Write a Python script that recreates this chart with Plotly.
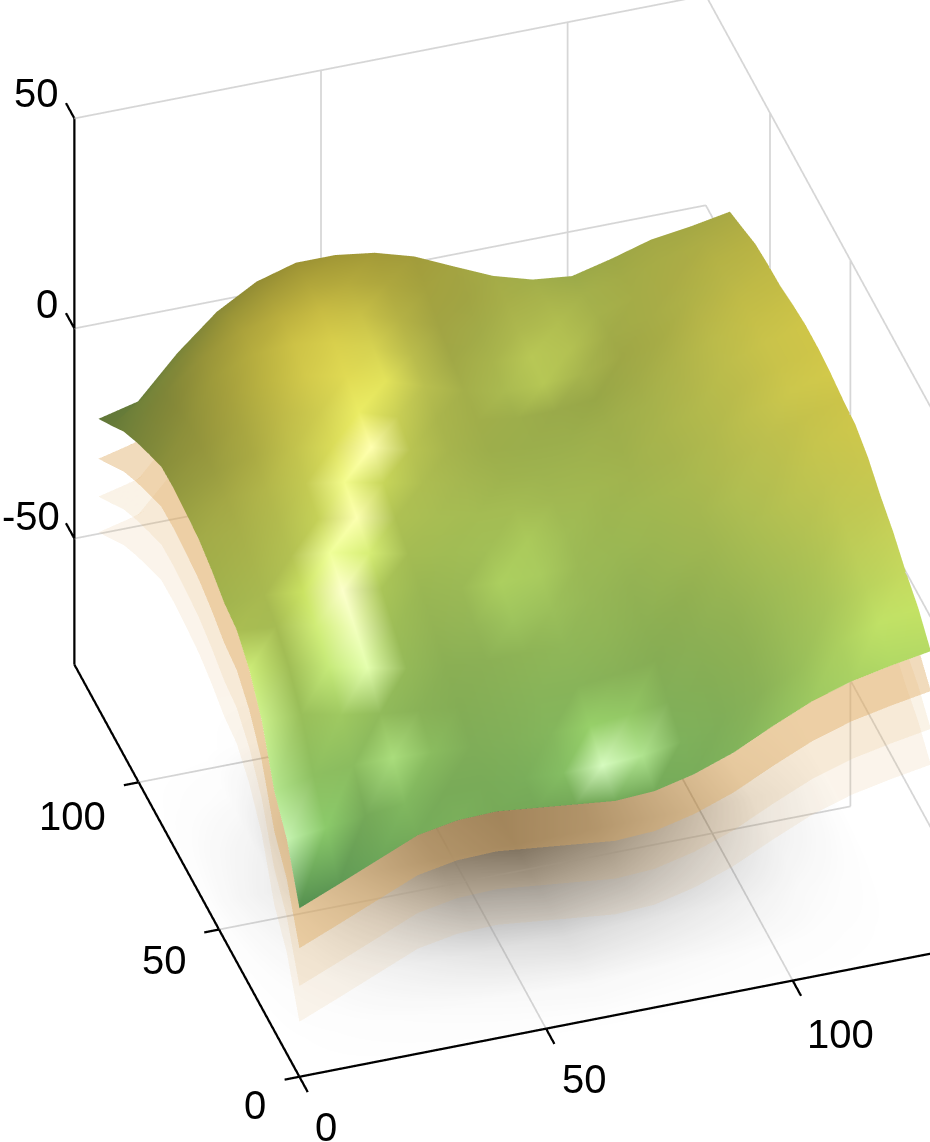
import plotly.graph_objects as go

x_nodes = [0, 8, 16, 24, 32, 40, 48, 56, 64, 72, 80, 88, 96, 104, 112, 120, 128]
y_nodes = [0, 7.8, 15.6, 23.4, 31.2, 39, 46.8, 54.6, 62.4, 70.2, 78, 85.8, 93.6, 101.4, 109.2, 117, 125]
z_top = [
    [-39.9, -36, -32, -28, -26.3, -26, -27, -28, -29, -28.5, -26.3, -23, -18.5, -14.4, -11.5, -9.6, -8],
    [-29, -28, -27, -26, -25, -25, -25.5, -26, -26, -25.5, -24, -21, -16, -12, -8, -5, -3.2],
    [-23, -21, -20.5, -20.5, -21, -21.5, -22, -22, -22, -21, -20, -17, -13, -9, -5, -2, 0],
    [-11.7, -12, -14, -15.5, -16.5, -17.5, -18, -18, -18, -17, -15.5, -13, -9.5, -6, -2, 1.5, 4],
    [-5, -6, -8, -10, -12, -13.5, -14, -14, -14, -13, -12, -9, -6, -2.5, 1, 4.5, 7],
    [-1, -2, -3.5, -6, -8, -10, -11, -11.5, -11, -10, -9, -6, -3, 0, 4, 7.5, 10.7],
    [0, 0, -1, -2.5, -4, -6, -7.5, -8, -8, -7.5, -6, -4, -1, 2, 6, 10, 13],
    [2.3, 2.5, 2, 1, -1, -3, -4.5, -5.5, -5.5, -5, -4, -2, 0.5, 4, 7.5, 11, 13.6],
    [4, 4.5, 4.5, 3.5, 2, 0, -1.5, -3, -3, -3, -2, -0.5, 2, 5, 8.5, 12, 14.5],
    [4.7, 6.5, 7, 6.5, 5, 3, 1, -0.5, -1.5, -2, -1.5, 0, 2.5, 5.5, 9, 12.5, 15],
    [5.2, 7.5, 9.5, 9.5, 8, 6, 3.5, 1.5, 0, -1, -1, 0.5, 3, 6, 9.5, 12.5, 15],
    [5, 8, 11, 12, 11, 9, 6, 3.5, 1.5, 0, 0, 1, 3.5, 6.5, 9.5, 12.5, 14.3],
    [2.6, 8, 12.5, 14.5, 14, 12, 9, 6, 3, 1, 1, 1.5, 4, 6.5, 9.5, 12, 13.3],
    [0, 6.5, 12, 15.5, 16, 14.5, 11.5, 8, 5, 2.5, 2, 2, 3.5, 6, 8.5, 11, 13],
    [-3, 4, 11, 15.5, 17, 16.5, 14, 11, 7.5, 4, 3, 2.5, 3, 5.5, 8, 10.5, 12.4],
    [-7, -1, 7, 13.5, 16, 17, 16, 14, 10.5, 7, 4.5, 3, 2.5, 4.5, 7, 9, 10.7],
    [-11, -8.7, 1, 9, 14.3, 17, 17, 15.7, 13, 8.8, 4.7, 2, 1, 3.3, 6, 7.3, 9],
]
tone = [
    [.9, .95, 1.0, 1.02, 1.03, 1.0, 1.0, 1.0, 1.02, 1.02, 1.02, 1.04, 1.08, 1.12, 1.15, 1.18, 1.18],
    [1.4, 1.2, 1.0, 1.08, 1.0, 1.0, 1.02, 1.12, 1.45, 1.3, 1.03, 1.0, 1.0, 1.05, 1.12, 1.2, 1.2],
    [1.3, 1.1, 1.08, 1.25, 1.08, 1.0, 1.02, 1.05, 1.2, 1.15, 1.0, .98, .98, 1.02, 1.05, 1.12, 1.15],
    [1.3, 1.05, 1.12, 1.05, 1.0, .98, 1.0, 1.02, 1.02, 1.0, .97, .97, .97, 1.0, 1.03, 1.08, 1.1],
    [1.25, 1.02, 1.25, 1.4, 1.02, .97, .98, 1.0, 1.02, 1.0, .97, .95, .97, 1.0, 1.02, 1.05, 1.05],
    [1.0, 1.0, 1.25, 1.45, 1.02, .98, 1.0, 1.08, 1.05, 1.0, .97, .97, .97, 1.0, 1.02, 1.03, 1.03],
    [.95, .98, 1.2, 1.5, 1.05, .98, 1.0, 1.12, 1.1, 1.0, .98, .97, .97, 1.0, 1.0, 1.02, 1.02],
    [.92, .95, 1.02, 1.35, 1.25, 1.0, 1.0, 1.02, 1.08, 1.0, .97, .97, .97, .98, 1.0, 1.0, 1.0],
    [.9, .92, .98, 1.1, 1.42, 1.02, 1.0, 1.0, 1.0, .98, .97, .95, .95, .97, 1.0, 1.02, 1.02],
    [.85, .88, .95, 1.05, 1.32, 1.12, 1.0, .97, .95, .95, .95, .93, .95, .97, .98, 1.0, 1.0],
    [.8, .82, .88, 1.0, 1.15, 1.42, 1.03, .95, .92, .92, .92, .92, .93, .95, .98, 1.0, 1.0],
    [.75, .78, .85, .95, 1.05, 1.22, 1.08, .95, .92, .92, .9, .88, .9, .93, .97, .98, .98],
    [.72, .75, .82, .92, 1.03, 1.12, 1.18, 1.0, .92, .98, 1.05, .95, .88, .9, .94, .96, .96],
    [.7, .72, .8, .88, .98, 1.05, 1.08, .98, .88, .95, 1.05, 1.02, .9, .9, .92, .94, .94],
    [.68, .7, .76, .82, .88, .95, .98, .92, .86, .9, .97, 1.0, .93, .9, .9, .92, .92],
    [.66, .7, .72, .76, .8, .84, .86, .85, .84, .86, .92, .95, .93, .9, .9, .9, .9],
    [.65, .68, .7, .72, .72, .74, .76, .78, .8, .85, .9, .92, .9, .88, .88, .88, .88],
]
shadow_x = [0, 16, 32, 48, 64, 80, 96, 112, 128]
shadow_y = [0, 15.6, 31.2, 46.8, 62.4, 78, 93.6, 109.2, 125]
shadow = [
    [0, 0, 0, 0, 0, 0, 0, 0, 0],
    [0, .01, .02, .03, .04, .03, .02, .01, 0],
    [0, .03, .08, .14, .18, .14, .09, .03, 0],
    [0, .06, .2, .38, .45, .38, .22, .07, 0],
    [0, .09, .35, .65, .8, .65, .38, .1, 0],
    [0, .06, .35, .7, .85, .7, .35, .06, 0],
    [0, .02, .15, .3, .4, .3, .15, .02, 0],
    [0, 0, .02, .05, .1, .05, .02, 0, 0],
    [0, 0, 0, 0, 0, 0, 0, 0, 0],
]
layer_offsets = [9.5, 18.5, 27]
layer_alpha = [0.42, 0.15, 0.12]
hue_z = [-40, -20, -5, 8, 18]
hue_rgb = [(95, 160, 90), (130, 175, 88), (160, 188, 85), (190, 192, 78), (215, 200, 70)]
x_ticks = [0, 50, 100]
y_ticks = [0, 50, 100]
z_ticks = [-50, 0, 50]
z_tick_text = ["-50", "0", "50"]
X_MAX, Y_MAX, Z_MIN, Z_MAX = 128, 140, -80, 50
PAD = 10
GRID = "rgb(214,214,214)"
SHADOW_Z = Z_MIN - 3


def shade(z, t):
    for i in range(len(hue_z) - 1):
        if z <= hue_z[i + 1] or i == len(hue_z) - 2:
            f = max(0, min(1, (z - hue_z[i]) / (hue_z[i + 1] - hue_z[i])))
            c = [hue_rgb[i][k] + f * (hue_rgb[i + 1][k] - hue_rgb[i][k]) for k in range(3)]
            break
    c = [min(255, v * t) for v in c]
    if t > 1.2:
        w = min(1, (t - 1.2) / 0.5)
        c = [v + w * (255 - v) for v in c]
    return "rgb(%d,%d,%d)" % tuple(int(v) for v in c)


nx, ny = len(x_nodes), len(y_nodes)
mx, my, mz, mc, mi, mj, mk = [], [], [], [], [], [], []
for r in range(ny):
    for c in range(nx):
        mx.append(x_nodes[c]); my.append(y_nodes[r]); mz.append(z_top[r][c])
        mc.append(shade(z_top[r][c], tone[r][c]))
for r in range(ny - 1):
    for c in range(nx - 1):
        a = r * nx + c
        mi += [a, a]; mj += [a + 1, a + nx + 1]; mk += [a + nx + 1, a + nx]

flat = dict(ambient=1, diffuse=0, specular=0, fresnel=0, roughness=1)
fig = go.Figure()
fig.add_surface(x=shadow_x, y=shadow_y, z=[[SHADOW_Z] * len(shadow_x) for _ in shadow_y], surfacecolor=shadow,
                colorscale=[[0, "rgb(255,255,255)"], [1, "rgb(50,50,50)"]], cmin=0, cmax=1,
                showscale=False, hoverinfo="skip", lighting=flat)


def lines(segs, color, width):
    xs, ys, zs = [], [], []
    for a, b in segs:
        xs += [a[0], b[0], None]; ys += [a[1], b[1], None]; zs += [a[2], b[2], None]
    fig.add_scatter3d(x=xs, y=ys, z=zs, mode="lines", line=dict(color=color, width=width),
                      showlegend=False, hoverinfo="skip")


def floor_gray(s):
    g = int(214 * (255 - 205 * s) / 255)
    return "rgb(%d,%d,%d)" % (g, g, g)


def nearest(seq, v):
    return min(range(len(seq)), key=lambda i: abs(seq[i] - v))


# Floor grid lines pick up the shadow under them, as they do in the reference.
for v in x_ticks[1:]:
    col = nearest(shadow_x, v)
    ys = shadow_y + [Y_MAX]
    vals = [row[col] for row in shadow] + [0]
    fig.add_scatter3d(x=[v] * len(ys), y=ys, z=[Z_MIN] * len(ys), mode="lines",
                      line=dict(color=[floor_gray(s) for s in vals], width=3.5),
                      showlegend=False, hoverinfo="skip")
for v in y_ticks[1:]:
    vals = shadow[nearest(shadow_y, v)]
    fig.add_scatter3d(x=shadow_x, y=[v] * len(shadow_x), z=[Z_MIN] * len(shadow_x), mode="lines",
                      line=dict(color=[floor_gray(s) for s in vals], width=3.5),
                      showlegend=False, hoverinfo="skip")

grid = []
for v in x_ticks[1:]:
    grid.append(((v, Y_MAX, Z_MIN), (v, Y_MAX, Z_MAX)))
for v in y_ticks[1:]:
    grid.append(((X_MAX, v, Z_MIN), (X_MAX, v, Z_MAX)))
for v in z_ticks:
    grid.append(((0, Y_MAX, v), (X_MAX, Y_MAX, v)))
    grid.append(((X_MAX, 0, v), (X_MAX, Y_MAX, v)))
lines(grid, GRID, 3.5)

frame = [((0, 0, Z_MIN), (X_MAX, 0, Z_MIN)), ((0, 0, Z_MIN), (0, Y_MAX, Z_MIN)), ((0, Y_MAX, Z_MIN), (0, Y_MAX, Z_MAX))]
frame += [((v, 0, Z_MIN), (v, -5.2, Z_MIN)) for v in x_ticks]
frame += [((0, v, Z_MIN), (-3, v, Z_MIN)) for v in y_ticks]
frame += [((0, Y_MAX, v), (0, Y_MAX + 5.2, v)) for v in z_ticks]
lines(frame, "black", 4.5)

for off, a in sorted(zip(layer_offsets, layer_alpha), reverse=True):
    fig.add_surface(x=x_nodes, y=y_nodes, z=[[v - off for v in row] for row in z_top],
                    colorscale=[[0, "rgb(222,170,95)"], [1, "rgb(222,170,95)"]], opacity=a,
                    showscale=False, hoverinfo="skip", lighting=flat)

fig.add_mesh3d(x=mx, y=my, z=mz, i=mi, j=mj, k=mk, vertexcolor=mc, lighting=flat, hoverinfo="skip")

label_font = dict(family="Liberation Sans", size=40, color="black")
notes = []
for v, s in zip(x_ticks, [(27, -50), (38, -50), (48, -53)]):
    notes.append(dict(x=v, y=0, z=Z_MIN, text=str(v), xshift=s[0], yshift=s[1]))
for v, s in zip(y_ticks, [(-44, -28), (-55, -30), (-66, -34)]):
    notes.append(dict(x=0, y=v, z=Z_MIN, text=str(v), xshift=s[0], yshift=s[1]))
for v, t, s in zip(z_ticks, z_tick_text, [(-43, 23), (-27, 24), (-38, 25)]):
    notes.append(dict(x=0, y=Y_MAX, z=v, text=t, xshift=s[0], yshift=s[1]))
for n in notes:
    n.update(showarrow=False, font=label_font)

K = 1.193
hidden = dict(visible=False, showspikes=False)
cx, cy, cz = -0.0739, -0.0143, -0.0492
fig.update_layout(
    width=930, height=1142, margin=dict(l=0, r=0, t=0, b=0), paper_bgcolor="white", showlegend=False,
    scene=dict(
        domain=dict(x=[0, 1], y=[0, 1]),
        xaxis=dict(hidden, range=[-PAD, X_MAX + PAD]),
        yaxis=dict(hidden, range=[-PAD, Y_MAX + PAD]),
        zaxis=dict(hidden, range=[Z_MIN - PAD, Z_MAX + PAD]),
        aspectmode="manual",
        aspectratio=dict(x=0.975 * K * (X_MAX + 2 * PAD) / X_MAX,
                         y=1.065 * K * (Y_MAX + 2 * PAD) / Y_MAX,
                         z=K * (Z_MAX - Z_MIN + 2 * PAD) / (Z_MAX - Z_MIN)),
        camera=dict(projection=dict(type="orthographic"),
                    eye=dict(x=-0.62 + cx, y=-1.9 + cy, z=1.49 + cz),
                    center=dict(x=cx, y=cy, z=cz), up=dict(x=0, y=0, z=1)),
        annotations=notes,
    ),
)
fig.write_html("out.html", post_script="document.body.style.margin='0';", config=dict(displayModeBar=False))
